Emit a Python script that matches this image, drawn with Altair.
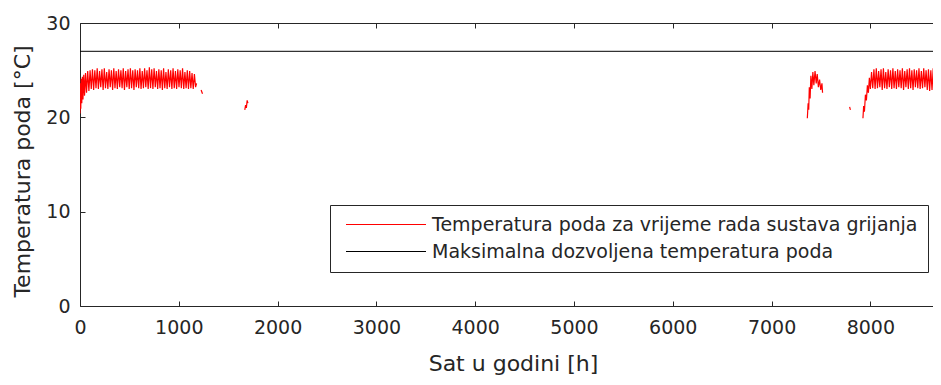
import altair as alt
import pandas as pd

SERIES_RED = "Temperatura poda za vrijeme rada sustava grijanja"
SERIES_MAX = "Maksimalna dozvoljena temperatura poda"

X_TITLE = "Sat u godini [h]"
Y_TITLE = "Temperatura poda [°C]"
x_ticks = [0, 1000, 2000, 3000, 4000, 5000, 6000, 7000, 8000]
y_ticks = [0, 10, 20, 30]
x_domain = [0, 8634]
y_domain = [0, 30]
max_temp = [27]

# [hour, floor temperature], per visible run
seg_jan = [
    [0, 20.4], [4, 23.6], [8, 20.9], [12, 24.1], [18, 21.5], [24, 24.3], [30, 21.9], [38, 24.5],
    [46, 22.3], [56, 24.7], [66, 22.6], [78, 24.9], [90, 22.8], [102, 25.0], [114, 23.0], [126, 25.1],
    [138, 22.9], [150, 25.0], [162, 23.1], [174, 25.2], [186, 23.0], [198, 24.9], [210, 23.2], [222, 25.1],
    [234, 22.9], [246, 25.2], [258, 23.1], [270, 24.8], [282, 23.0], [294, 25.1], [306, 23.2], [318, 25.0],
    [330, 22.9], [342, 25.2], [354, 23.1], [366, 24.9], [378, 23.0], [390, 25.1], [402, 23.2], [414, 25.0],
    [426, 23.1], [438, 25.2], [450, 22.9], [462, 24.9], [474, 23.2], [486, 25.1], [498, 23.0], [510, 25.2],
    [522, 23.1], [534, 25.0], [546, 22.9], [558, 25.1], [570, 23.2], [582, 25.0], [594, 23.1], [606, 25.2],
    [618, 23.0], [630, 24.9], [642, 23.1], [654, 25.2], [666, 23.2], [678, 25.0], [690, 23.0], [702, 25.3],
    [714, 23.1], [726, 25.1], [738, 23.0], [750, 25.2], [762, 23.2], [774, 24.9], [786, 23.0], [798, 25.1],
    [810, 23.1], [822, 25.0], [834, 22.9], [846, 25.2], [858, 23.1], [870, 24.8], [882, 23.0], [894, 25.1],
    [906, 23.2], [918, 25.0], [930, 23.0], [942, 25.2], [954, 23.1], [966, 24.9], [978, 23.0], [990, 25.1],
    [1002, 23.2], [1014, 25.0], [1026, 23.1], [1038, 25.2], [1050, 23.0], [1062, 24.8], [1074, 23.1],
    [1086, 25.0], [1098, 23.0], [1110, 24.9], [1122, 23.1], [1134, 24.7], [1146, 23.0], [1158, 24.6],
    [1170, 23.2], [1180, 23.6],
]
seg_feb_a = [[1226, 22.9], [1240, 22.5]]
seg_feb_b = [[1668, 20.8], [1676, 21.3], [1684, 21.0], [1692, 21.8], [1700, 21.5]]
seg_nov = [
    [7362, 19.9], [7370, 21.5], [7376, 20.8], [7382, 23.2], [7390, 22.0], [7398, 24.4], [7408, 23.0],
    [7418, 24.8], [7428, 23.4], [7440, 24.9], [7452, 23.6], [7462, 24.6], [7474, 23.2], [7486, 24.0],
    [7498, 22.9], [7510, 23.6], [7516, 22.6],
]
seg_dec_a = [[7790, 21.1], [7798, 20.8]]
seg_dec_b = [
    [7925, 19.9], [7932, 21.2], [7940, 20.6], [7950, 22.4], [7960, 21.8], [7970, 23.4], [7980, 22.6],
    [7990, 24.2], [8000, 23.0], [8012, 24.8], [8024, 23.1], [8036, 25.1], [8048, 23.0], [8060, 25.2],
    [8072, 23.1], [8084, 24.9], [8096, 23.2], [8108, 25.1], [8120, 22.9], [8132, 25.2], [8144, 23.1],
    [8156, 24.8], [8168, 23.0], [8180, 25.1], [8192, 23.2], [8204, 25.0], [8216, 23.0], [8228, 25.2],
    [8240, 23.1], [8252, 24.9], [8264, 23.0], [8276, 25.1], [8288, 23.2], [8300, 25.0], [8312, 23.1],
    [8324, 25.2], [8336, 22.9], [8348, 24.9], [8360, 23.2], [8372, 25.1], [8384, 23.0], [8396, 25.2],
    [8408, 23.1], [8420, 25.0], [8432, 22.9], [8444, 25.1], [8456, 23.2], [8468, 25.0], [8480, 23.1],
    [8492, 25.2], [8504, 23.0], [8516, 24.9], [8528, 23.1], [8540, 25.2], [8552, 23.2], [8564, 25.0],
    [8576, 22.9], [8588, 25.1], [8600, 22.8], [8612, 25.0], [8624, 22.9], [8636, 25.2], [8648, 23.0],
    [8660, 24.9], [8672, 23.1], [8684, 25.1], [8696, 23.0], [8708, 24.8], [8720, 23.1], [8732, 24.9],
    [8744, 23.0], [8756, 24.7],
]
segments = [seg_jan, seg_feb_a, seg_feb_b, seg_nov, seg_dec_a, seg_dec_b]

rows = []
for i, seg in enumerate(segments):
    for h, t in seg:
        rows.append({"sat": h, "temp": t, "seg": i, "serija": SERIES_RED})
df = pd.DataFrame(rows)
max_df = pd.DataFrame({"max": max_temp})

FONT = "DejaVu Sans"
INK = "#262626"

x_scale = alt.Scale(domain=x_domain, nice=False, zero=False)
y_scale = alt.Scale(domain=y_domain, nice=False)

color = alt.Color(
    "serija:N",
    scale=alt.Scale(domain=[SERIES_RED, SERIES_MAX], range=["#ff0000", "#000000"]),
    legend=alt.Legend(
        title=None, orient="none", legendX=250, legendY=182,
        symbolType="stroke", symbolSize=6400, symbolStrokeWidth=1.2, clipHeight=19,
        symbolOffset=5,
        labelFont=FONT, labelFontSize=19, labelColor=INK, labelOffset=5, labelLimit=1000,
        padding=10, rowPadding=7, strokeColor=INK, fillColor="white",
    ),
)

main = alt.Chart(df).mark_line(clip=True, strokeWidth=1.2).encode(
    x=alt.X("sat:Q", scale=x_scale, axis=alt.Axis(
        orient="bottom", values=x_ticks, format="d", title=X_TITLE, ticks=False, domain=True,
        domainColor=INK, grid=False, labelFlush=False, labelOverlap=False,
        labelPadding=12, labelFont=FONT, labelFontSize=19, labelColor=INK,
        titleFont=FONT, titleFontSize=22, titleFontWeight="normal", titleColor=INK,
        titleX=433, titleY=57, titleBaseline="middle")),
    y=alt.Y("temp:Q", scale=y_scale, axis=alt.Axis(
        orient="left", values=y_ticks, title=Y_TITLE, ticks=False, domain=True,
        domainColor=INK, grid=False, labelFlush=False, labelOverlap=False,
        labelPadding=10, labelFont=FONT, labelFontSize=19, labelColor=INK,
        titleFont=FONT, titleFontSize=22, titleFontWeight="normal", titleColor=INK,
        titleX=-58, titleY=148, titleAngle=270, titleBaseline="middle", titleAlign="center")),
    color=color,
    detail="seg:N",
)

max_rule = alt.Chart(max_df).mark_rule(strokeWidth=1).encode(
    y=alt.Y("max:Q", scale=y_scale, axis=alt.Axis(
        orient="left", values=y_ticks, title=None, labels=False, domain=False,
        ticks=True, tickSize=5, tickColor=INK, offset=-5, grid=False)),
    color=alt.ColorDatum(SERIES_MAX),
)

ticks_bottom = alt.Chart(df).mark_line(opacity=0).encode(
    x=alt.X("sat:Q", scale=x_scale, axis=alt.Axis(
        orient="bottom", values=x_ticks, title=None, labels=False, domain=False,
        ticks=True, tickSize=5, tickColor=INK, offset=-5, grid=False)),
    y=alt.Y("temp:Q", scale=y_scale, axis=None),
    detail="seg:N",
)

top_border = alt.Chart(df).mark_line(opacity=0).encode(
    x=alt.X("sat:Q", scale=x_scale, axis=alt.Axis(
        orient="top", values=x_ticks, title=None, labels=False, domain=True,
        domainColor=INK, ticks=False, grid=False)),
    y=alt.Y("temp:Q", scale=y_scale, axis=None),
    detail="seg:N",
)

ticks_top = alt.Chart(df).mark_line(opacity=0).encode(
    x=alt.X("sat:Q", scale=x_scale, axis=alt.Axis(
        orient="top", values=x_ticks, title=None, labels=False, domain=False,
        ticks=True, tickSize=5, tickColor=INK, offset=-5, grid=False)),
    y=alt.Y("temp:Q", scale=y_scale, axis=None),
    detail="seg:N",
)

chart = (
    alt.layer(main, max_rule, ticks_bottom, top_border, ticks_top)
    .resolve_axis(x="independent", y="independent")
    .properties(
        width=853, height=283,
        padding={"left": 72, "top": 15, "right": 0, "bottom": 70},
        autosize=alt.AutoSizeParams(type="none"),
        background="white",
    )
    .configure_view(stroke=None)
)

chart.save("out.html", embed_options={"renderer": "svg", "actions": False})
